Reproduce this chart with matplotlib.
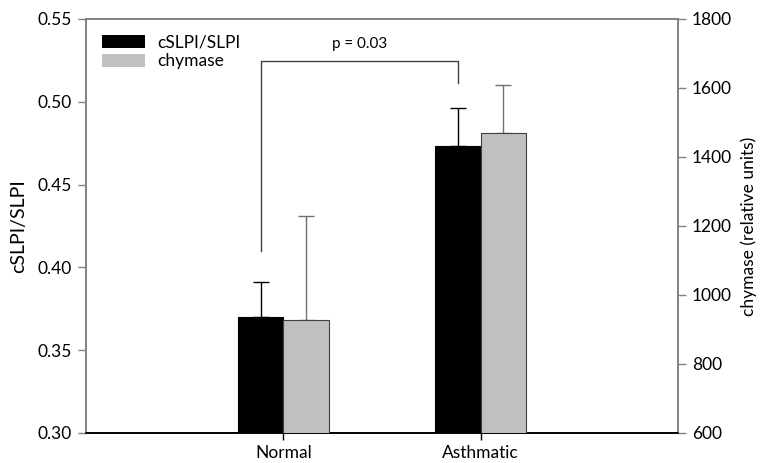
import matplotlib
matplotlib.use("Agg")
import matplotlib.pyplot as plt
from matplotlib.patches import Patch
import numpy as np

# 데이터
groups = ['Normal', 'Asthmatic']
slpi_ratio = [0.370, 0.4735]
slpi_err = [0.021, 0.023]
chymase = [928, 1469]
chymase_err = [302, 141]
p_label = 'p = 0.03'

plt.rcParams['font.family'] = ['Lato', 'DejaVu Sans']

fig = plt.figure(figsize=(7.66, 4.63), dpi=100)
ax = fig.add_axes([0.1123, 0.0648, 0.7730, 0.8942])
ax2 = ax.twinx()

x = np.arange(1, len(groups) + 1)
w = 0.23

ax.bar(x - w / 2, slpi_ratio, w, color='black', edgecolor='black', linewidth=0.8, zorder=3)
ax.errorbar(x - w / 2, slpi_ratio, yerr=[[0, 0], slpi_err], fmt='none', ecolor='black',
            elinewidth=1, capsize=6, capthick=1, zorder=2)

ax2.bar(x + w / 2, chymase, w, color='#c0c0c0', edgecolor='#404040', linewidth=0.8, zorder=3)
ax2.errorbar(x + w / 2, chymase, yerr=[[0, 0], chymase_err], fmt='none', ecolor='#707070',
             elinewidth=1, capsize=6, capthick=1, zorder=2)

ax.set_xlim(0, 3)
ax.set_ylim(0.30, 0.55)
ax.set_yticks(np.arange(0.30, 0.551, 0.05))
ax.set_yticklabels(['%.2f' % v for v in np.arange(0.30, 0.551, 0.05)])
ax2.set_ylim(600, 1800)
ax2.set_yticks(range(600, 1801, 200))
ax.set_xticks(x)
ax.set_xticklabels(groups)

ax.set_ylabel('cSLPI/SLPI', fontsize=14, labelpad=8)
ax2.set_ylabel('chymase (relative units)', fontsize=12.5, labelpad=6)

for a in (ax, ax2):
    a.tick_params(axis='y', labelsize=12.5, length=6, width=1, color='#808080', pad=4)
    a.tick_params(axis='x', labelsize=12.5, length=5, width=1, color='black')
    for s in ['left', 'right', 'top']:
        a.spines[s].set_color('#808080')
        a.spines[s].set_linewidth(1.2)
    a.spines['bottom'].set_color('black')
    a.spines['bottom'].set_linewidth(1.2)

# 유의성 표시
bx = [x[0] - w / 2, x[0] - w / 2, x[1] - w / 2, x[1] - w / 2]
by = [0.410, 0.5248, 0.5248, 0.5115]
ax.plot(bx, by, color='#404040', linewidth=1, zorder=4)
ax.text((x[0] + x[1]) / 2 - w / 2, 0.5305, p_label, ha='center', va='bottom', fontsize=11)

handles = [Patch(facecolor='black', edgecolor='none'), Patch(facecolor='#c0c0c0', edgecolor='none')]
ax.legend(handles, ['cSLPI/SLPI', 'chymase'], loc='upper left', frameon=False,
          fontsize=12.5, handlelength=2.5, handleheight=0.75, handletextpad=0.7,
          labelspacing=0.15, borderaxespad=0.5, bbox_to_anchor=(0.0, 1.0))

fig.savefig('out.png', dpi=100)
